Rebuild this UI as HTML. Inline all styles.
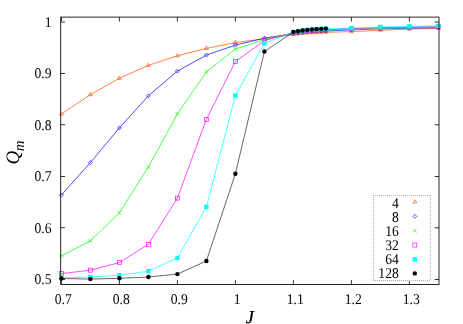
<!DOCTYPE html>
<html><head><meta charset="utf-8"><style>html,body{margin:0;padding:0;background:#fff;}body{width:463px;height:324px;position:relative;overflow:hidden;font-family:"Liberation Serif",serif;}</style></head><body>
<svg width="463" height="324" viewBox="0 0 463 324" style="position:absolute;left:0;top:0;will-change:transform" text-rendering="geometricPrecision">
<polyline points="61.40,114.00 90.40,94.70 119.40,78.30 148.40,65.40 177.40,55.80 206.40,48.40 235.40,42.60 264.40,38.80 293.40,34.60 298.04,34.01 302.68,33.41 307.32,33.02 311.96,32.73 316.60,32.54 321.24,32.39 325.88,32.30 351.40,31.60 380.40,30.30 409.40,29.00 438.40,28.30" fill="none" stroke="#ff4d00" stroke-width="0.7" stroke-linejoin="round"/>
<path d="M61.40,111.76 L59.40,115.00 L63.40,115.00 Z" fill="none" stroke="#ff4d00" stroke-width="0.65"/>
<path d="M90.40,92.46 L88.40,95.70 L92.40,95.70 Z" fill="none" stroke="#ff4d00" stroke-width="0.65"/>
<path d="M119.40,76.06 L117.40,79.30 L121.40,79.30 Z" fill="none" stroke="#ff4d00" stroke-width="0.65"/>
<path d="M148.40,63.16 L146.40,66.40 L150.40,66.40 Z" fill="none" stroke="#ff4d00" stroke-width="0.65"/>
<path d="M177.40,53.56 L175.40,56.80 L179.40,56.80 Z" fill="none" stroke="#ff4d00" stroke-width="0.65"/>
<path d="M206.40,46.16 L204.40,49.40 L208.40,49.40 Z" fill="none" stroke="#ff4d00" stroke-width="0.65"/>
<path d="M235.40,40.36 L233.40,43.60 L237.40,43.60 Z" fill="none" stroke="#ff4d00" stroke-width="0.65"/>
<path d="M264.40,36.56 L262.40,39.80 L266.40,39.80 Z" fill="none" stroke="#ff4d00" stroke-width="0.65"/>
<path d="M293.40,32.36 L291.40,35.60 L295.40,35.60 Z" fill="none" stroke="#ff4d00" stroke-width="0.65"/>
<path d="M298.04,31.77 L296.04,35.01 L300.04,35.01 Z" fill="none" stroke="#ff4d00" stroke-width="0.65"/>
<path d="M302.68,31.17 L300.68,34.41 L304.68,34.41 Z" fill="none" stroke="#ff4d00" stroke-width="0.65"/>
<path d="M307.32,30.78 L305.32,34.02 L309.32,34.02 Z" fill="none" stroke="#ff4d00" stroke-width="0.65"/>
<path d="M311.96,30.49 L309.96,33.73 L313.96,33.73 Z" fill="none" stroke="#ff4d00" stroke-width="0.65"/>
<path d="M316.60,30.30 L314.60,33.54 L318.60,33.54 Z" fill="none" stroke="#ff4d00" stroke-width="0.65"/>
<path d="M321.24,30.15 L319.24,33.39 L323.24,33.39 Z" fill="none" stroke="#ff4d00" stroke-width="0.65"/>
<path d="M325.88,30.06 L323.88,33.30 L327.88,33.30 Z" fill="none" stroke="#ff4d00" stroke-width="0.65"/>
<path d="M351.40,29.36 L349.40,32.60 L353.40,32.60 Z" fill="none" stroke="#ff4d00" stroke-width="0.65"/>
<path d="M380.40,28.06 L378.40,31.30 L382.40,31.30 Z" fill="none" stroke="#ff4d00" stroke-width="0.65"/>
<path d="M409.40,26.76 L407.40,30.00 L411.40,30.00 Z" fill="none" stroke="#ff4d00" stroke-width="0.65"/>
<path d="M438.40,26.06 L436.40,29.30 L440.40,29.30 Z" fill="none" stroke="#ff4d00" stroke-width="0.65"/>
<polyline points="61.40,195.00 90.40,162.50 119.40,127.90 148.40,95.80 177.40,71.10 206.40,55.10 235.40,45.10 264.40,38.10 293.40,33.70 298.04,33.05 302.68,32.40 307.32,31.95 311.96,31.60 316.60,31.35 321.24,31.15 325.88,31.00 351.40,29.80 380.40,28.80 409.40,28.20 438.40,27.70" fill="none" stroke="#0000ff" stroke-width="0.7" stroke-linejoin="round"/>
<path d="M61.40,193.00 L59.40,195.00 L61.40,197.00 L63.40,195.00 Z" fill="none" stroke="#0000ff" stroke-width="0.65"/>
<path d="M90.40,160.50 L88.40,162.50 L90.40,164.50 L92.40,162.50 Z" fill="none" stroke="#0000ff" stroke-width="0.65"/>
<path d="M119.40,125.90 L117.40,127.90 L119.40,129.90 L121.40,127.90 Z" fill="none" stroke="#0000ff" stroke-width="0.65"/>
<path d="M148.40,93.80 L146.40,95.80 L148.40,97.80 L150.40,95.80 Z" fill="none" stroke="#0000ff" stroke-width="0.65"/>
<path d="M177.40,69.10 L175.40,71.10 L177.40,73.10 L179.40,71.10 Z" fill="none" stroke="#0000ff" stroke-width="0.65"/>
<path d="M206.40,53.10 L204.40,55.10 L206.40,57.10 L208.40,55.10 Z" fill="none" stroke="#0000ff" stroke-width="0.65"/>
<path d="M235.40,43.10 L233.40,45.10 L235.40,47.10 L237.40,45.10 Z" fill="none" stroke="#0000ff" stroke-width="0.65"/>
<path d="M264.40,36.10 L262.40,38.10 L264.40,40.10 L266.40,38.10 Z" fill="none" stroke="#0000ff" stroke-width="0.65"/>
<path d="M293.40,31.70 L291.40,33.70 L293.40,35.70 L295.40,33.70 Z" fill="none" stroke="#0000ff" stroke-width="0.65"/>
<path d="M298.04,31.05 L296.04,33.05 L298.04,35.05 L300.04,33.05 Z" fill="none" stroke="#0000ff" stroke-width="0.65"/>
<path d="M302.68,30.40 L300.68,32.40 L302.68,34.40 L304.68,32.40 Z" fill="none" stroke="#0000ff" stroke-width="0.65"/>
<path d="M307.32,29.95 L305.32,31.95 L307.32,33.95 L309.32,31.95 Z" fill="none" stroke="#0000ff" stroke-width="0.65"/>
<path d="M311.96,29.60 L309.96,31.60 L311.96,33.60 L313.96,31.60 Z" fill="none" stroke="#0000ff" stroke-width="0.65"/>
<path d="M316.60,29.35 L314.60,31.35 L316.60,33.35 L318.60,31.35 Z" fill="none" stroke="#0000ff" stroke-width="0.65"/>
<path d="M321.24,29.15 L319.24,31.15 L321.24,33.15 L323.24,31.15 Z" fill="none" stroke="#0000ff" stroke-width="0.65"/>
<path d="M325.88,29.00 L323.88,31.00 L325.88,33.00 L327.88,31.00 Z" fill="none" stroke="#0000ff" stroke-width="0.65"/>
<path d="M351.40,27.80 L349.40,29.80 L351.40,31.80 L353.40,29.80 Z" fill="none" stroke="#0000ff" stroke-width="0.65"/>
<path d="M380.40,26.80 L378.40,28.80 L380.40,30.80 L382.40,28.80 Z" fill="none" stroke="#0000ff" stroke-width="0.65"/>
<path d="M409.40,26.20 L407.40,28.20 L409.40,30.20 L411.40,28.20 Z" fill="none" stroke="#0000ff" stroke-width="0.65"/>
<path d="M438.40,25.70 L436.40,27.70 L438.40,29.70 L440.40,27.70 Z" fill="none" stroke="#0000ff" stroke-width="0.65"/>
<polyline points="61.40,255.90 90.40,240.90 119.40,212.80 148.40,167.00 177.40,113.90 206.40,71.90 235.40,49.10 264.40,39.60 293.40,33.10 298.04,32.42 302.68,31.74 307.32,31.26 311.96,30.89 316.60,30.61 321.24,30.38 325.88,30.20 351.40,29.20 380.40,28.20 409.40,27.60 438.40,27.10" fill="none" stroke="#00ff00" stroke-width="0.7" stroke-linejoin="round"/>
<path d="M59.40,253.90 L63.40,257.90 M59.40,257.90 L63.40,253.90" fill="none" stroke="#00ff00" stroke-width="0.65"/>
<path d="M88.40,238.90 L92.40,242.90 M88.40,242.90 L92.40,238.90" fill="none" stroke="#00ff00" stroke-width="0.65"/>
<path d="M117.40,210.80 L121.40,214.80 M117.40,214.80 L121.40,210.80" fill="none" stroke="#00ff00" stroke-width="0.65"/>
<path d="M146.40,165.00 L150.40,169.00 M146.40,169.00 L150.40,165.00" fill="none" stroke="#00ff00" stroke-width="0.65"/>
<path d="M175.40,111.90 L179.40,115.90 M175.40,115.90 L179.40,111.90" fill="none" stroke="#00ff00" stroke-width="0.65"/>
<path d="M204.40,69.90 L208.40,73.90 M204.40,73.90 L208.40,69.90" fill="none" stroke="#00ff00" stroke-width="0.65"/>
<path d="M233.40,47.10 L237.40,51.10 M233.40,51.10 L237.40,47.10" fill="none" stroke="#00ff00" stroke-width="0.65"/>
<path d="M262.40,37.60 L266.40,41.60 M262.40,41.60 L266.40,37.60" fill="none" stroke="#00ff00" stroke-width="0.65"/>
<path d="M291.40,31.10 L295.40,35.10 M291.40,35.10 L295.40,31.10" fill="none" stroke="#00ff00" stroke-width="0.65"/>
<path d="M296.04,30.42 L300.04,34.42 M296.04,34.42 L300.04,30.42" fill="none" stroke="#00ff00" stroke-width="0.65"/>
<path d="M300.68,29.74 L304.68,33.74 M300.68,33.74 L304.68,29.74" fill="none" stroke="#00ff00" stroke-width="0.65"/>
<path d="M305.32,29.26 L309.32,33.26 M305.32,33.26 L309.32,29.26" fill="none" stroke="#00ff00" stroke-width="0.65"/>
<path d="M309.96,28.89 L313.96,32.89 M309.96,32.89 L313.96,28.89" fill="none" stroke="#00ff00" stroke-width="0.65"/>
<path d="M314.60,28.61 L318.60,32.61 M314.60,32.61 L318.60,28.61" fill="none" stroke="#00ff00" stroke-width="0.65"/>
<path d="M319.24,28.38 L323.24,32.38 M319.24,32.38 L323.24,28.38" fill="none" stroke="#00ff00" stroke-width="0.65"/>
<path d="M323.88,28.20 L327.88,32.20 M323.88,32.20 L327.88,28.20" fill="none" stroke="#00ff00" stroke-width="0.65"/>
<path d="M349.40,27.20 L353.40,31.20 M349.40,31.20 L353.40,27.20" fill="none" stroke="#00ff00" stroke-width="0.65"/>
<path d="M378.40,26.20 L382.40,30.20 M378.40,30.20 L382.40,26.20" fill="none" stroke="#00ff00" stroke-width="0.65"/>
<path d="M407.40,25.60 L411.40,29.60 M407.40,29.60 L411.40,25.60" fill="none" stroke="#00ff00" stroke-width="0.65"/>
<path d="M436.40,25.10 L440.40,29.10 M436.40,29.10 L440.40,25.10" fill="none" stroke="#00ff00" stroke-width="0.65"/>
<polyline points="61.40,273.60 90.40,270.20 119.40,262.60 148.40,244.30 177.40,198.10 206.40,119.40 235.40,61.60 264.40,40.60 293.40,32.60 298.04,31.89 302.68,31.19 307.32,30.68 311.96,30.27 316.60,29.96 321.24,29.71 325.88,29.50 351.40,28.65 380.40,27.65 409.40,27.05 438.40,26.55" fill="none" stroke="#ff00ff" stroke-width="0.7" stroke-linejoin="round"/>
<rect x="59.40" y="271.60" width="4.0" height="4.0" fill="none" stroke="#ff00ff" stroke-width="0.65"/>
<rect x="88.40" y="268.20" width="4.0" height="4.0" fill="none" stroke="#ff00ff" stroke-width="0.65"/>
<rect x="117.40" y="260.60" width="4.0" height="4.0" fill="none" stroke="#ff00ff" stroke-width="0.65"/>
<rect x="146.40" y="242.30" width="4.0" height="4.0" fill="none" stroke="#ff00ff" stroke-width="0.65"/>
<rect x="175.40" y="196.10" width="4.0" height="4.0" fill="none" stroke="#ff00ff" stroke-width="0.65"/>
<rect x="204.40" y="117.40" width="4.0" height="4.0" fill="none" stroke="#ff00ff" stroke-width="0.65"/>
<rect x="233.40" y="59.60" width="4.0" height="4.0" fill="none" stroke="#ff00ff" stroke-width="0.65"/>
<rect x="262.40" y="38.60" width="4.0" height="4.0" fill="none" stroke="#ff00ff" stroke-width="0.65"/>
<rect x="291.40" y="30.60" width="4.0" height="4.0" fill="none" stroke="#ff00ff" stroke-width="0.65"/>
<rect x="296.04" y="29.89" width="4.0" height="4.0" fill="none" stroke="#ff00ff" stroke-width="0.65"/>
<rect x="300.68" y="29.19" width="4.0" height="4.0" fill="none" stroke="#ff00ff" stroke-width="0.65"/>
<rect x="305.32" y="28.68" width="4.0" height="4.0" fill="none" stroke="#ff00ff" stroke-width="0.65"/>
<rect x="309.96" y="28.27" width="4.0" height="4.0" fill="none" stroke="#ff00ff" stroke-width="0.65"/>
<rect x="314.60" y="27.96" width="4.0" height="4.0" fill="none" stroke="#ff00ff" stroke-width="0.65"/>
<rect x="319.24" y="27.71" width="4.0" height="4.0" fill="none" stroke="#ff00ff" stroke-width="0.65"/>
<rect x="323.88" y="27.50" width="4.0" height="4.0" fill="none" stroke="#ff00ff" stroke-width="0.65"/>
<rect x="349.40" y="26.65" width="4.0" height="4.0" fill="none" stroke="#ff00ff" stroke-width="0.65"/>
<rect x="378.40" y="25.65" width="4.0" height="4.0" fill="none" stroke="#ff00ff" stroke-width="0.65"/>
<rect x="407.40" y="25.05" width="4.0" height="4.0" fill="none" stroke="#ff00ff" stroke-width="0.65"/>
<rect x="436.40" y="24.55" width="4.0" height="4.0" fill="none" stroke="#ff00ff" stroke-width="0.65"/>
<polyline points="61.40,277.60 90.40,277.10 119.40,275.30 148.40,271.20 177.40,257.90 206.40,206.90 235.40,95.50 264.40,43.40 293.40,32.10 298.04,31.36 302.68,30.61 307.32,30.07 311.96,29.63 316.60,29.29 321.24,28.99 325.88,28.75 351.40,28.00 380.40,27.00 409.40,26.40 438.40,25.90" fill="none" stroke="#00ffff" stroke-width="0.7" stroke-linejoin="round"/>
<rect x="59.20" y="275.40" width="4.4" height="4.4" fill="#00ffff" stroke="none"/>
<rect x="88.20" y="274.90" width="4.4" height="4.4" fill="#00ffff" stroke="none"/>
<rect x="117.20" y="273.10" width="4.4" height="4.4" fill="#00ffff" stroke="none"/>
<rect x="146.20" y="269.00" width="4.4" height="4.4" fill="#00ffff" stroke="none"/>
<rect x="175.20" y="255.70" width="4.4" height="4.4" fill="#00ffff" stroke="none"/>
<rect x="204.20" y="204.70" width="4.4" height="4.4" fill="#00ffff" stroke="none"/>
<rect x="233.20" y="93.30" width="4.4" height="4.4" fill="#00ffff" stroke="none"/>
<rect x="262.20" y="41.20" width="4.4" height="4.4" fill="#00ffff" stroke="none"/>
<rect x="291.20" y="29.90" width="4.4" height="4.4" fill="#00ffff" stroke="none"/>
<rect x="295.84" y="29.16" width="4.4" height="4.4" fill="#00ffff" stroke="none"/>
<rect x="300.48" y="28.41" width="4.4" height="4.4" fill="#00ffff" stroke="none"/>
<rect x="305.12" y="27.87" width="4.4" height="4.4" fill="#00ffff" stroke="none"/>
<rect x="309.76" y="27.43" width="4.4" height="4.4" fill="#00ffff" stroke="none"/>
<rect x="314.40" y="27.09" width="4.4" height="4.4" fill="#00ffff" stroke="none"/>
<rect x="319.04" y="26.79" width="4.4" height="4.4" fill="#00ffff" stroke="none"/>
<rect x="323.68" y="26.55" width="4.4" height="4.4" fill="#00ffff" stroke="none"/>
<rect x="349.20" y="25.80" width="4.4" height="4.4" fill="#00ffff" stroke="none"/>
<rect x="378.20" y="24.80" width="4.4" height="4.4" fill="#00ffff" stroke="none"/>
<rect x="407.20" y="24.20" width="4.4" height="4.4" fill="#00ffff" stroke="none"/>
<rect x="436.20" y="23.70" width="4.4" height="4.4" fill="#00ffff" stroke="none"/>
<polyline points="61.40,278.50 90.40,279.10 119.40,278.30 148.40,277.00 177.40,274.10 206.40,261.00 235.40,173.70 264.40,51.50 293.40,32.00 298.04,31.25 302.68,30.50 307.32,29.95 311.96,29.50 316.60,29.15 321.24,28.85 325.88,28.60" fill="none" stroke="#000000" stroke-width="0.6" stroke-linejoin="round"/>
<circle cx="61.40" cy="278.50" r="2.2" fill="#000000"/>
<circle cx="90.40" cy="279.10" r="2.2" fill="#000000"/>
<circle cx="119.40" cy="278.30" r="2.2" fill="#000000"/>
<circle cx="148.40" cy="277.00" r="2.2" fill="#000000"/>
<circle cx="177.40" cy="274.10" r="2.2" fill="#000000"/>
<circle cx="206.40" cy="261.00" r="2.2" fill="#000000"/>
<circle cx="235.40" cy="173.70" r="2.2" fill="#000000"/>
<circle cx="264.40" cy="51.50" r="2.2" fill="#000000"/>
<circle cx="293.40" cy="32.00" r="2.2" fill="#000000"/>
<circle cx="298.04" cy="31.25" r="2.2" fill="#000000"/>
<circle cx="302.68" cy="30.50" r="2.2" fill="#000000"/>
<circle cx="307.32" cy="29.95" r="2.2" fill="#000000"/>
<circle cx="311.96" cy="29.50" r="2.2" fill="#000000"/>
<circle cx="316.60" cy="29.15" r="2.2" fill="#000000"/>
<circle cx="321.24" cy="28.85" r="2.2" fill="#000000"/>
<circle cx="325.88" cy="28.60" r="2.2" fill="#000000"/>
<path d="M61.40,284.5 V280.1 M61.40,17.1 V21.5 M119.40,284.5 V280.1 M119.40,17.1 V21.5 M177.40,284.5 V280.1 M177.40,17.1 V21.5 M235.40,284.5 V280.1 M235.40,17.1 V21.5 M293.40,284.5 V280.1 M293.40,17.1 V21.5 M351.40,284.5 V280.1 M351.40,17.1 V21.5 M409.40,284.5 V280.1 M409.40,17.1 V21.5 M60.7,279.50 H65.0 M439.0,279.50 H434.7 M60.7,227.75 H65.0 M439.0,227.75 H434.7 M60.7,176.50 H65.0 M439.0,176.50 H434.7 M60.7,124.75 H65.0 M439.0,124.75 H434.7 M60.7,73.50 H65.0 M439.0,73.50 H434.7 M60.7,22.05 H65.0 M439.0,22.05 H434.7" stroke="#000" stroke-width="0.8" fill="none"/>
<rect x="60.7" y="17.1" width="378.30" height="267.40" fill="none" stroke="#000" stroke-width="0.85"/>
<path d="M373,195.5 H431 M373,280.5 H431 M373.5,195 V281 M430.5,195 V281" fill="none" stroke="#b0b0b0" stroke-width="1" stroke-dasharray="1 1"/>
<path d="M414.80,199.76 L412.80,203.00 L416.80,203.00 Z" fill="none" stroke="#ff4d00" stroke-width="0.65"/>
<path d="M414.80,214.40 L412.80,216.40 L414.80,218.40 L416.80,216.40 Z" fill="none" stroke="#0000ff" stroke-width="0.65"/>
<path d="M412.80,228.60 L416.80,232.60 M412.80,232.60 L416.80,228.60" fill="none" stroke="#00ff00" stroke-width="0.65"/>
<rect x="412.80" y="243.10" width="4.0" height="4.0" fill="none" stroke="#ff00ff" stroke-width="0.65"/>
<rect x="412.60" y="257.10" width="4.4" height="4.4" fill="#00ffff" stroke="none"/>
<circle cx="414.80" cy="273.40" r="2.2" fill="#000000"/>
<text transform="translate(398.8,207.6) scale(0.915,1)" font-family="Liberation Serif, serif" font-size="14.9" text-anchor="end">4</text>
<text transform="translate(398.8,221.7) scale(0.915,1)" font-family="Liberation Serif, serif" font-size="14.9" text-anchor="end">8</text>
<text transform="translate(398.8,235.8) scale(0.915,1)" font-family="Liberation Serif, serif" font-size="14.9" text-anchor="end">16</text>
<text transform="translate(398.8,249.8) scale(0.915,1)" font-family="Liberation Serif, serif" font-size="14.9" text-anchor="end">32</text>
<text transform="translate(398.8,263.9) scale(0.915,1)" font-family="Liberation Serif, serif" font-size="14.9" text-anchor="end">64</text>
<text transform="translate(398.8,278.0) scale(0.915,1)" font-family="Liberation Serif, serif" font-size="14.9" text-anchor="end">128</text>
<text transform="translate(63.20,303.7) scale(0.915,1)" font-family="Liberation Serif, serif" font-size="14.9" text-anchor="middle">0.7</text>
<text transform="translate(121.20,303.7) scale(0.915,1)" font-family="Liberation Serif, serif" font-size="14.9" text-anchor="middle">0.8</text>
<text transform="translate(179.20,303.7) scale(0.915,1)" font-family="Liberation Serif, serif" font-size="14.9" text-anchor="middle">0.9</text>
<text transform="translate(237.20,303.7) scale(0.915,1)" font-family="Liberation Serif, serif" font-size="14.9" text-anchor="middle">1</text>
<text transform="translate(295.20,303.7) scale(0.915,1)" font-family="Liberation Serif, serif" font-size="14.9" text-anchor="middle">1.1</text>
<text transform="translate(353.20,303.7) scale(0.915,1)" font-family="Liberation Serif, serif" font-size="14.9" text-anchor="middle">1.2</text>
<text transform="translate(411.20,303.7) scale(0.915,1)" font-family="Liberation Serif, serif" font-size="14.9" text-anchor="middle">1.3</text>
<text transform="translate(51.6,284.30) scale(0.915,1)" font-family="Liberation Serif, serif" font-size="14.9" text-anchor="end">0.5</text>
<text transform="translate(51.6,232.55) scale(0.915,1)" font-family="Liberation Serif, serif" font-size="14.9" text-anchor="end">0.6</text>
<text transform="translate(51.6,181.30) scale(0.915,1)" font-family="Liberation Serif, serif" font-size="14.9" text-anchor="end">0.7</text>
<text transform="translate(51.6,129.55) scale(0.915,1)" font-family="Liberation Serif, serif" font-size="14.9" text-anchor="end">0.8</text>
<text transform="translate(51.6,78.30) scale(0.915,1)" font-family="Liberation Serif, serif" font-size="14.9" text-anchor="end">0.9</text>
<text transform="translate(51.6,26.85) scale(0.915,1)" font-family="Liberation Serif, serif" font-size="14.9" text-anchor="end">1</text>
<text x="245.8" y="323.3" font-family="Liberation Serif, serif" font-size="18.3" font-style="italic" stroke="#000" stroke-width="0.25">J</text>
<g transform="translate(18.8,164.4) rotate(-90)"><text x="0" y="0" font-family="Liberation Serif, serif" font-size="19" font-style="italic">Q<tspan dx="-0.5" dy="4.8" font-size="14.8">m</tspan></text></g>
</svg>
</body></html>
